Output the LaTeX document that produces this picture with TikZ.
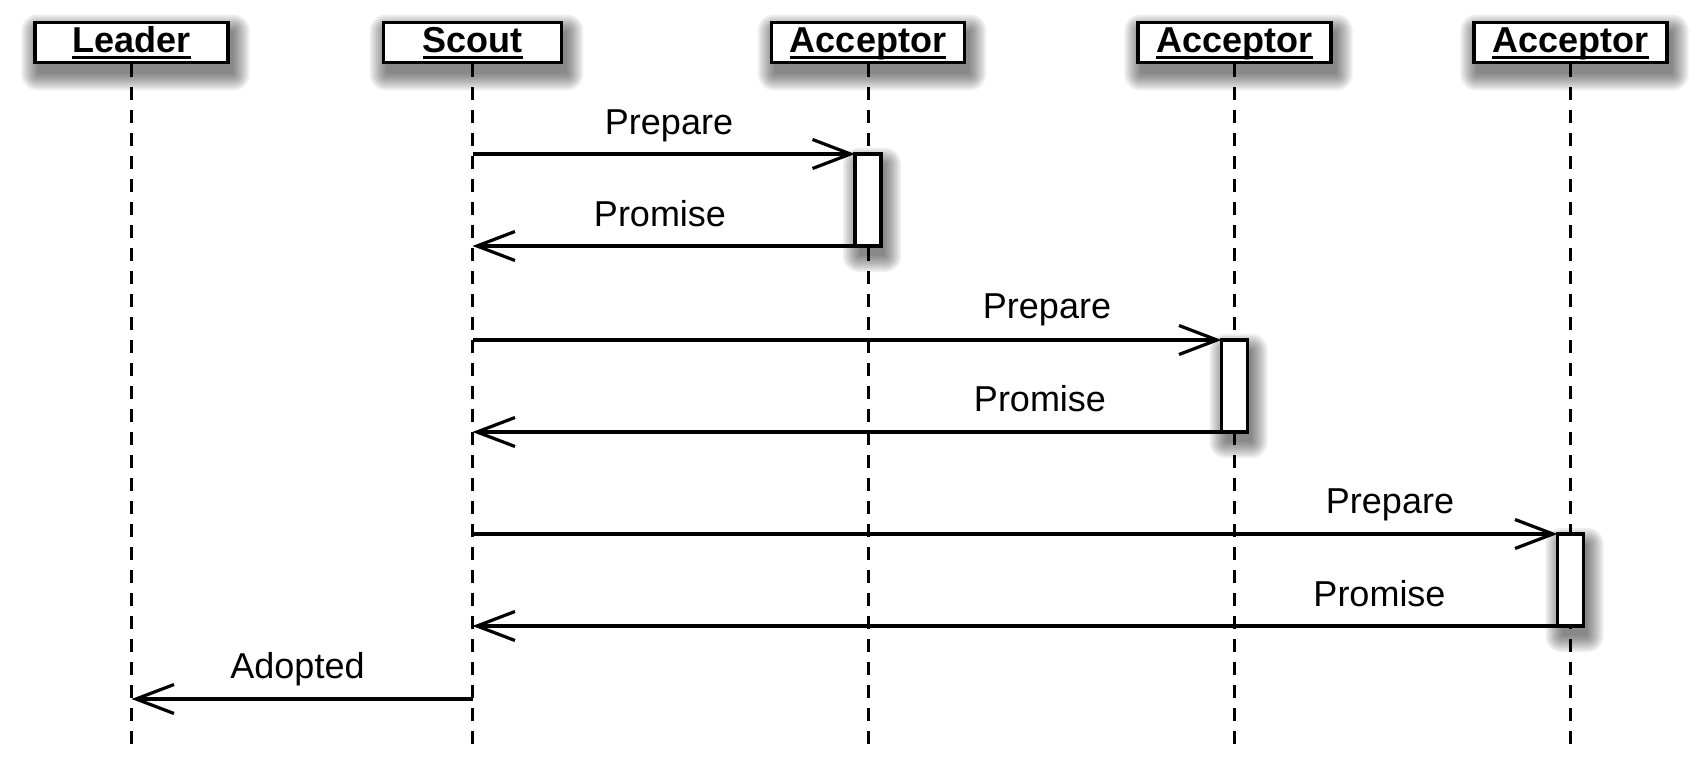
\documentclass[tikz,border=0pt]{standalone}
\usepackage{fontspec}
\setmainfont{Liberation Sans}
\usetikzlibrary{arrows.meta,backgrounds}
\newcommand\hdrul[1]{\setbox0\hbox{#1}\rlap{\rule[-6pt]{\wd0}{2.4pt}}\box0}
\begin{document}
\begin{tikzpicture}[x=1pt,y=-1pt,
  head/.style={draw, line width=3.2pt, fill=white, inner sep=0pt, minimum width=193pt,
    text height=30.5pt, text depth=10pt, anchor=base,
    font=\fontsize{36}{42}\selectfont\bfseries},
  act/.style={draw, line width=3.2pt, fill=white, inner sep=0pt, outer sep=0pt,
    minimum width=26pt, minimum height=92pt, anchor=north},
  msg/.style={line width=3.2pt, -{Straight Barb[length=38pt,width=29pt]}},
  life/.style={line width=3pt, dash pattern=on 13pt off 10pt},
  lbl/.style={anchor=base, inner sep=0pt, font=\fontsize{36}{42}\selectfont},
  shd/.style={black, opacity=0.065}
]
\useasboundingbox (0,0) rectangle (1701,762);
\node[head] (L) at (131.5,52.7) {\hdrul{Leader}};
\node[head, minimum width=178pt] (S) at (472.5,52.7) {\hdrul{Scout}};
\node[head] (A1) at (868,52.7) {\hdrul{Acceptor}};
\node[head] (A2) at (1234.5,52.7) {\hdrul{Acceptor}};
\node[head] (A3) at (1570.5,52.7) {\hdrul{Acceptor}};
\coordinate (bot) at (0,749);
\node[act] (x1) at (868,154) {};
\node[act] (x2) at (1234.5,340) {};
\node[act] (x3) at (1570.5,534) {};
\coordinate (ad) at (472.5,699);
\draw[msg] (S.south |- x1.north) -- (x1.north west);
\draw[msg] (x1.south west) -- (S.south |- x1.south west);
\draw[msg] (S.south |- x2.north) -- (x2.north west);
\draw[msg] (x2.south west) -- (S.south |- x2.south west);
\draw[msg] (S.south |- x3.north) -- (x3.north west);
\draw[msg] (x3.south west) -- (S.south |- x3.south west);
\draw[msg] (ad) -- (L.south |- ad);
\node[lbl] (t1) at (669,135) {Prepare};
\node[lbl] (t2) at (660,227) {Promise};
\node[lbl] (t3) at (1047,319) {Prepare};
\node[lbl] (t4) at (1040,411.7) {Promise};
\node[lbl] (t5) at (1390,513) {Prepare};
\node[lbl] (t6) at (1379.5,606.7) {Promise};
\node[lbl] (t7) at (297.5,678) {Adopted};
\begin{pgfonlayer}{background}
  \foreach \n in {L,S,A1,A2,A3} \draw[life] (\n.south) -- (\n.south |- bot);
  \foreach \n in {L,S,A1,A2,A3,x1,x2,x3} {
    \foreach \r in {0,2,...,16}
      \fill[shd, rounded corners=\r pt] ([shift={(4-\r,10-\r)}]\n.north west) rectangle ([shift={(4+\r,10+\r)}]\n.south east);
  }
\end{pgfonlayer}
\end{tikzpicture}
\end{document}
